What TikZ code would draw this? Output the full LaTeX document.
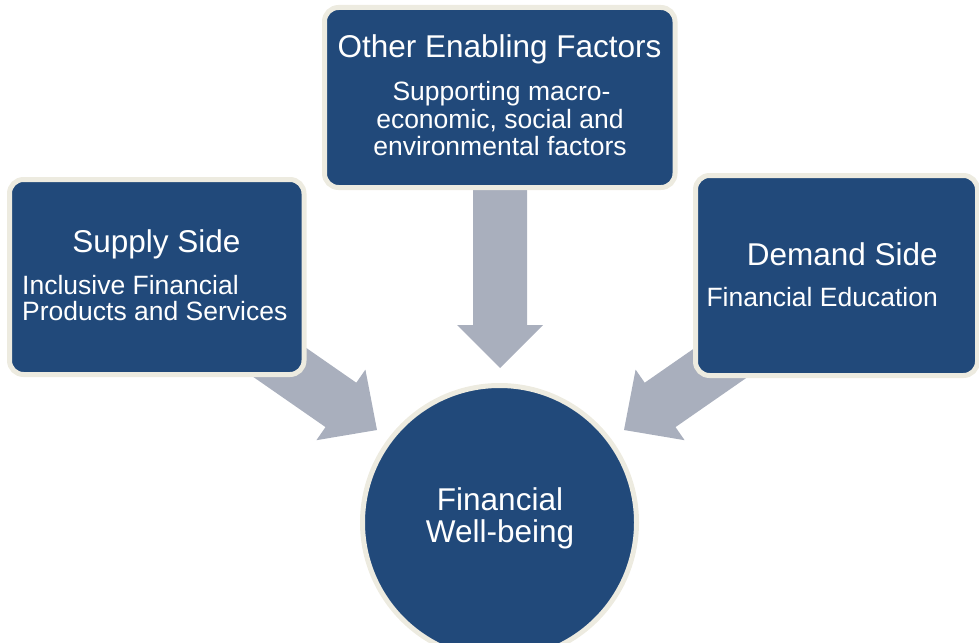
\documentclass[tikz,border=0pt]{standalone}
\usepackage{fontspec}
\setmainfont{Liberation Sans}
\definecolor{boxblue}{HTML}{21497A}
\definecolor{cream}{HTML}{EDEBE0}
\definecolor{arrowgrey}{HTML}{A9AFBD}
\tikzset{
  panel/.style={draw=cream, line width=5pt, fill=boxblue, rounded corners=14pt, inner sep=0pt},
  hub/.style={circle, draw=cream, line width=5pt, fill=boxblue, inner sep=0pt, minimum size=274pt},
  blockarrow/.style={fill=arrowgrey, draw=none},
  titletext/.style={text=white, inner sep=0pt, font=\fontsize{31.5}{32}\selectfont},
  subtext/.style={text=white, inner sep=0pt, font=\fontsize{26.5}{27}\selectfont}
}
\begin{document}
\begin{tikzpicture}[x=1pt, y=-1pt]
\useasboundingbox (0,0) rectangle (979,642);
% block arrows
\fill[blockarrow] (218.8,353.0) -- (325.5,427.1) -- (316.4,440.2) -- (377,430) -- (365.4,369.6) -- (356.3,382.7) -- (249.6,308.6) -- cycle;
\fill[blockarrow] (782.2,353.0) -- (675.5,427.1) -- (684.6,440.2) -- (624,430) -- (635.6,369.6) -- (644.7,382.7) -- (751.4,308.6) -- cycle;
\fill[blockarrow] (473,150) -- (473,325) -- (457,325) -- (500,368) -- (543,325) -- (527,325) -- (527,150) -- cycle;
% boxes
\node[panel, minimum width=294.5pt, minimum height=195pt] (supply) at (156.75,277) {};
\node[panel, minimum width=350.5pt, minimum height=180pt] (other) at (499.75,97.5) {};
\node[panel, minimum width=282pt, minimum height=200pt] (demand) at (836.5,275.5) {};
\node[hub] (wellbeing) at (499.5,522.5) {};
% texts
\node[titletext, anchor=base] (supplyT) at (156.5,252) {Supply Side};
\node[subtext, anchor=base west] (supplyA) at (22,294) {Inclusive Financial};
\node[subtext, anchor=base west] (supplyB) at (22,320) {Products and Services};
\node[titletext, anchor=base] (otherT) at (499.5,58) {Other Enabling Factors};
\node[subtext, anchor=base] (otherA) at (501.5,100) {Supporting macro-};
\node[subtext, anchor=base] (otherB) at (500,128) {economic, social and};
\node[subtext, anchor=base] (otherC) at (500,155) {environmental factors};
\node[titletext, anchor=base east] (demandT) at (938,265) {Demand Side};
\node[subtext, anchor=base east] (demandA) at (938,306) {Financial Education};
\node[titletext, anchor=base] (wbA) at (500,510) {Financial};
\node[titletext, anchor=base] (wbB) at (500,542) {Well-being};
\end{tikzpicture}
\end{document}
